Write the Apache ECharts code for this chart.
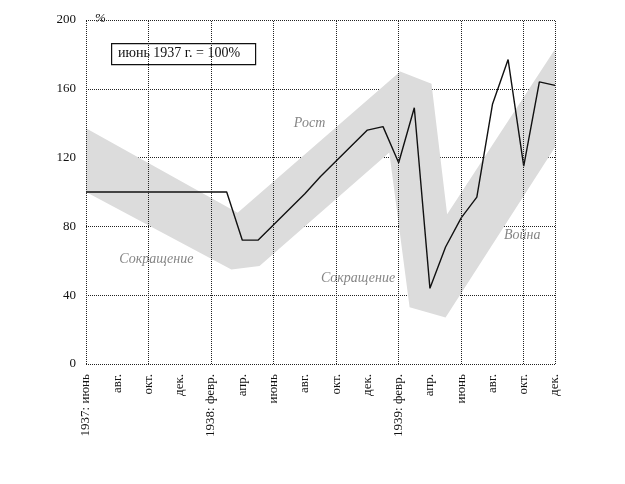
<!DOCTYPE html>
<html><head><meta charset="utf-8">
<script src="https://cdn.jsdelivr.net/npm/echarts@6/dist/echarts.min.js"></script>
<style>html,body{margin:0;background:#fff}#c{width:625px;height:484px}</style>
</head><body><div id="c"></div>
<script>
const tickLabels = ['1937: июнь','авг.','окт.','дек.','1938: февр.','апр.','июнь','авг.','окт.','дек.','1939: февр.','апр.','июнь','авг.','окт.','дек.'];
const lineValues = [100,100,100,100,100,100,100,100,100,100,72,72,81,90,99,109,118,127,136,138,117,149,44,68,85,97,151,177,115,164,162];
const bandMonths = [0,9.7,20.1,22.1,23.1,30,30,23,20.7,19.4,11.1,9.3,0];
const bandValues = [137,88,170,163,87,183,126,27,33,123,57,55,100];
const vGridMonths = [0,4,8,12,16,20,24,28,30];
const notes = [['Рост',14.3,140],['Сокращение',4.5,61],['Сокращение',17.4,50],['Война',27.9,75]];
const F = 'Liberation Serif, DejaVu Serif, serif';
const ch = echarts.init(document.getElementById('c'));
ch.setOption({
  animation:false,
  grid:{left:86,right:70,top:20,bottom:120},
  xAxis:{type:'value',min:0,max:30,interval:2,
    axisLine:{show:false},axisTick:{show:false},splitLine:{show:false},
    axisLabel:{rotate:90,fontFamily:F,fontSize:13,color:'#111',margin:10,
      formatter:v=>tickLabels[v/2]}},
  yAxis:{type:'value',min:0,max:200,interval:40,
    axisLine:{show:false},axisTick:{show:false},
    splitLine:{lineStyle:{type:'dotted',color:'#222',width:1}},
    axisLabel:{fontFamily:F,fontSize:13,color:'#111',margin:10}},
  series:[
    {type:'custom',z:1,renderItem:(p,api)=>({type:'polygon',
      shape:{points:bandMonths.map((m,i)=>api.coord([m,bandValues[i]]))},
      style:{fill:'#dcdcdc'}}),data:[0]},
    {type:'line',z:3,symbol:'none',data:lineValues.map((v,i)=>[i,v]),
      lineStyle:{color:'#111',width:1.4},
      markLine:{silent:true,symbol:'none',label:{show:false},
        lineStyle:{type:'dotted',color:'#222',width:1},
        data:vGridMonths.map(m=>({xAxis:m}))}},
    {type:'scatter',z:4,symbolSize:0,data:notes.map(n=>[n[1],n[2],n[0]]),
      label:{show:true,position:'inside',formatter:p=>p.data[2],fontFamily:F,
        fontStyle:'italic',fontSize:14,color:'#666'}}
  ],
  graphic:[
    {type:'text',left:95,top:12,style:{text:'%',font:'italic 13px '+F,fill:'#111'}},
    {type:'rect',left:111,top:43,shape:{width:144,height:21},style:{fill:'#fff',stroke:'#111',lineWidth:1.2}},
    {type:'text',left:118,top:46,style:{text:'июнь 1937 г. = 100%',font:'14px '+F,fill:'#111'}}
  ]
});
</script></body></html>
